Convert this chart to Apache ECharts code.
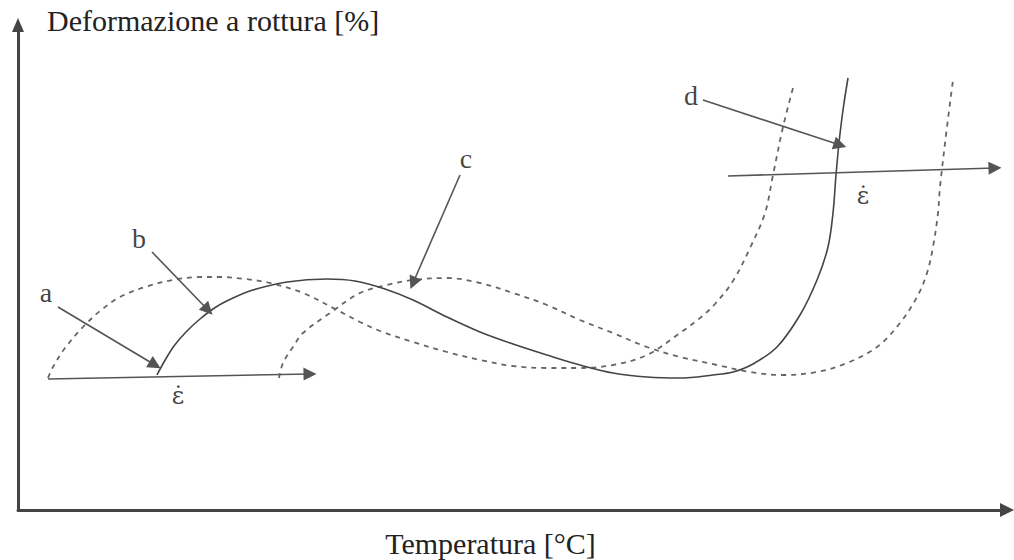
<!DOCTYPE html>
<html>
<head>
<meta charset="utf-8">
<script src="https://cdn.jsdelivr.net/npm/echarts@6/dist/echarts.min.js"></script>
<style>html,body{margin:0;padding:0;background:#fff}#chart{width:1014px;height:560px}</style>
</head>
<body>
<div id="chart"></div>
<script>
// Schematic values (arbitrary units)
const xAxisName = 'Temperatura [°C]';
const yAxisName = 'Deformazione a rottura [%]';
const xMax = 989;
const yMax = 485;

// Curve a (dashed, left)
const curveA = [[30,132],[35,143],[47,162],[65,183],[82,199],[102,213],[127,223],[155,230],[182,233],[202,233],[227,231],[252,227],[285,217],[319,200],[342,188],[362,179],[395,168],[429,158],[462,150],[495,144],[529,142],[562,142],[595,145],[629,155],[662,177],[682,192],[697,206],[715,229],[732,262],[747,297],[755,335],[765,383],[775,422]];
// Curve b (solid)
const curveB = [[139,135],[146,148],[156,164],[168,178],[182,191],[198,203],[215,212],[235,220],[269,228],[309,231],[337,229],[367,221],[395,210],[429,193],[462,178],[495,166],[529,155],[562,145],[595,137],[629,133],[662,132],[695,135],[715,138],[735,146],[759,163],[782,195],[799,230],[810,263],[815,297],[818,335],[821,367],[825,400],[830,432]];
// Curve c (dashed, right)
const curveC = [[261,132],[265,147],[275,163],[285,177],[312,197],[342,217],[369,225],[395,230],[429,232],[462,227],[495,217],[529,205],[562,190],[595,177],[629,163],[662,153],[699,145],[732,138],[765,135],[799,138],[829,147],[859,163],[882,187],[899,213],[909,237],[915,263],[920,297],[922,323],[929,383],[935,430]];

// Arrows: [start, end]
const arrows = [
  [[30,131],[292,136]],
  [[40,203],[137,145]],
  [[134,258],[190,200]],
  [[442,335],[395,227]],
  [[685,410],[822,365]],
  [[710,334],[977,342]]
];
// Text labels
const labelNames = ['a','b','c','d','ε̇','ε̇'];
const labelPos = [[28,218],[121,272],[448,352],[673,415],[160,114],[845,314]];

const serif = '"Liberation Serif", "DejaVu Serif", serif';
const chart = echarts.init(document.getElementById('chart'), null, {renderer: 'svg'});

const curveStyle = (dashed) => ({
  color: dashed ? '#666' : '#444',
  width: dashed ? 1.8 : 1.6,
  type: dashed ? [5, 5] : 'solid'
});

chart.setOption({
  animation: false,
  backgroundColor: '#fff',
  grid: {left: 18, right: 7, top: 25, bottom: 50, containLabel: false, outerBoundsMode: 'none'},
  xAxis: {
    type: 'value', min: 0, max: xMax,
    name: xAxisName, nameLocation: 'middle', nameGap: 18,
    nameTextStyle: {fontFamily: serif, fontSize: 30, color: '#222', padding: [0, 44, 0, 0]},
    axisLine: {show: true, lineStyle: {color: '#444', width: 3}, symbol: ['none', 'triangle'], symbolSize: [14, 14]},
    axisTick: {show: false}, axisLabel: {show: false}, splitLine: {show: false}
  },
  yAxis: {
    type: 'value', min: 0, max: yMax,
    name: yAxisName, nameLocation: 'end', nameGap: 5,
    nameTextStyle: {fontFamily: serif, fontSize: 30, color: '#222', align: 'left', verticalAlign: 'middle', padding: [0, 0, 0, 29]},
    axisLine: {show: true, lineStyle: {color: '#444', width: 3}, symbol: ['none', 'triangle'], symbolSize: [12, 14]},
    axisTick: {show: false}, axisLabel: {show: false}, splitLine: {show: false}
  },
  series: [
    {type: 'line', data: curveA, smooth: 0.35, showSymbol: false, lineStyle: curveStyle(true), z: 2},
    {type: 'line', data: curveB, smooth: 0.35, showSymbol: false, lineStyle: curveStyle(false), z: 3},
    {type: 'line', data: curveC, smooth: 0.35, showSymbol: false, lineStyle: curveStyle(true), z: 2},
    {
      type: 'lines', coordinateSystem: 'cartesian2d', z: 4,
      symbol: ['none', 'triangle'], symbolSize: [9, 13],
      lineStyle: {color: '#555', width: 1.6, opacity: 1},
      itemStyle: {color: '#555'},
      data: arrows.map(a => ({coords: a}))
    },
    {
      type: 'scatter', symbolSize: 0, z: 5,
      data: labelNames.map((n, i) => ({
        name: n, value: labelPos[i],
        label: n.length > 1 ? {fontFamily: '"DejaVu Serif", serif', fontSize: 24} : undefined
      })),
      label: {show: true, position: 'inside', formatter: '{b}', fontFamily: serif, fontSize: 28, color: '#111'}
    }
  ]
});
</script>
</body>
</html>
